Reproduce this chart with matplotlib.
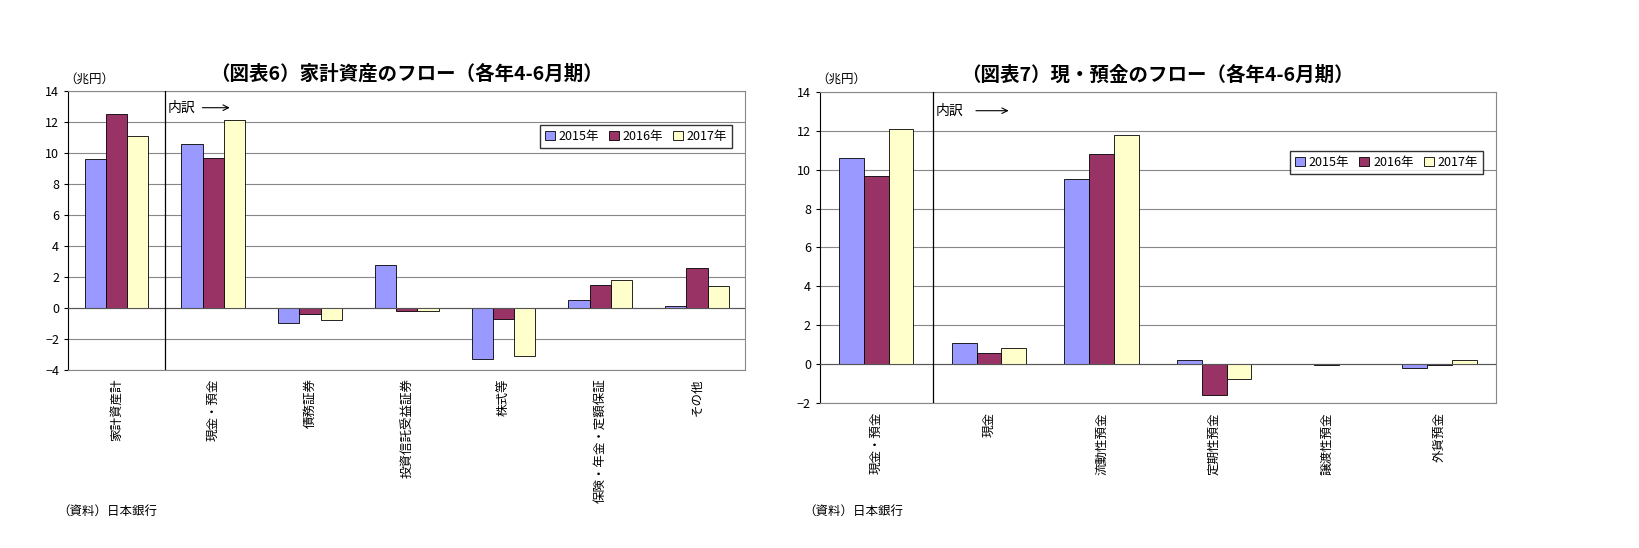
import numpy as np
import matplotlib
matplotlib.use("Agg")
import matplotlib.pyplot as plt

plt.rcParams["font.family"] = "Noto Sans CJK JP"

years = ["2015年", "2016年", "2017年"]
colors = ["#9999FF", "#993366", "#FFFFCC"]

cats6 = ["家計資産計", "現金・預金", "債務証券", "投資信託受益証券", "株式等", "保険・年金・定額保証", "その他"]
v6_2015 = [9.6, 10.6, -1.0, 2.8, -3.3, 0.5, 0.1]
v6_2016 = [12.5, 9.7, -0.4, -0.2, -0.7, 1.5, 2.6]
v6_2017 = [11.1, 12.1, -0.8, -0.2, -3.1, 1.8, 1.4]

cats7 = ["現金・預金", "現金", "流動性預金", "定期性預金", "譲渡性預金", "外貨預金"]
v7_2015 = [10.6, 1.1, 9.5, 0.2, 0.0, -0.2]
v7_2016 = [9.7, 0.55, 10.8, -1.6, -0.05, -0.05]
v7_2017 = [12.1, 0.8, 11.8, -0.75, 0.0, 0.2]


def draw(ax, cats, series, ylim, title, legend_pos):
    x = np.arange(len(cats))
    w = 0.22
    for i, (vals, c, lab) in enumerate(zip(series, colors, years)):
        ax.bar(x + (i - 1) * w, vals, w, color=c, edgecolor="black", linewidth=0.6, label=lab, zorder=3)
    ax.set_xlim(-0.5, len(cats) - 0.5)
    ax.set_ylim(*ylim)
    ax.set_yticks(np.arange(ylim[0], ylim[1] + 1, 2))
    ax.yaxis.grid(True, color="#888888", linewidth=0.8, zorder=0)
    ax.axhline(0, color="#555555", linewidth=0.8, zorder=4)
    ax.set_xticks([])
    for xi, c in zip(x, cats):
        ax.text(xi, ylim[0] - 0.03 * (ylim[1] - ylim[0]), c, rotation=90, ha="center", va="top", fontsize=9)
    for s in ax.spines.values():
        s.set_color("#888888")
    ax.spines["left"].set_color("black")
    ax.tick_params(axis="y", labelsize=9, length=3)
    ax.axvline(0.5, color="black", linewidth=0.9, zorder=4)
    ax.text(0.53, ylim[1] - 0.06 * (ylim[1] - ylim[0]), "内訳", fontsize=10, va="center")
    ax.annotate("", xy=(1.2, ylim[1] - 0.06 * (ylim[1] - ylim[0])),
                xytext=(0.86, ylim[1] - 0.06 * (ylim[1] - ylim[0])),
                arrowprops=dict(arrowstyle="->", color="black", lw=0.8))
    ax.set_title(title, fontsize=14, fontweight="bold", pad=8)
    ax.text(-0.005, 1.02, "（兆円）", transform=ax.transAxes, fontsize=9, ha="left", va="bottom")
    ax.legend(loc="upper right", bbox_to_anchor=legend_pos, ncol=3, fontsize=9,
              frameon=True, fancybox=False, edgecolor="black", handlelength=0.8,
              handletextpad=0.3, columnspacing=0.8, borderpad=0.4)


fig = plt.figure(figsize=(16.4, 5.48), dpi=100)
ax1 = fig.add_axes([0.0415, 0.325, 0.413, 0.509])
ax2 = fig.add_axes([0.5, 0.265, 0.412, 0.567])

draw(ax1, cats6, [v6_2015, v6_2016, v6_2017], (-4, 14), "（図表6）家計資産のフロー（各年4-6月期）", (0.99, 0.9))
draw(ax2, cats7, [v7_2015, v7_2016, v7_2017], (-2, 14), "（図表7）現・預金のフロー（各年4-6月期）", (0.99, 0.83))

fig.text(0.035, 0.06, "（資料）日本銀行", fontsize=9)
fig.text(0.49, 0.06, "（資料）日本銀行", fontsize=9)

fig.savefig("out.png", dpi=100)
